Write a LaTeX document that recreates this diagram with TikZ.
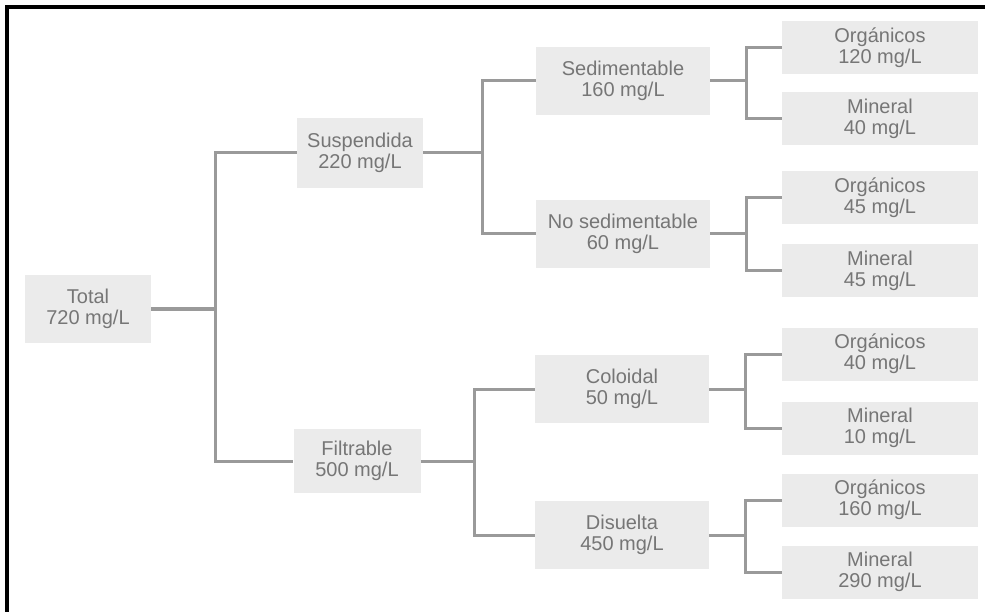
\documentclass[tikz,border=0pt]{standalone}
\usepackage{fontspec}
\setmainfont{Liberation Sans}
\usepackage{tikz}

\definecolor{boxgray}{HTML}{EBEBEB}
\definecolor{txtgray}{HTML}{767676}
\definecolor{linkgray}{HTML}{9A9A9A}

\tikzset{
	part/.style={fill=boxgray, text=txtgray, align=center, inner sep=0pt,
		font=\fontsize{20}{21}\selectfont},
	midpart/.style={part, minimum width=174pt, minimum height=68pt},
	leafpart/.style={part, minimum width=196pt, minimum height=53pt},
	link/.style={draw=linkgray, line width=3pt}
}

\begin{document}
\begin{tikzpicture}[x=1pt, y=-1pt]
		\useasboundingbox (0, 0) rectangle (985, 612);
		\draw[line width=4pt] (7, 612) -- (7, 7) -- (985, 7);
		\node[part, minimum width=126pt, minimum height=67pt] (total) at (88, 309) {Total\\720 mg/L};
		\node[part, minimum width=126pt, minimum height=70pt] (susp) at (360, 153) {Suspendida\\220 mg/L};
		\node[part, minimum width=127pt, minimum height=64pt] (filt) at (357, 461) {Filtrable\\500 mg/L};
		\node[midpart] (sed) at (623, 81) {Sedimentable\\160 mg/L};
		\node[midpart] (nosed) at (623, 234) {No sedimentable\\60 mg/L};
		\node[midpart] (col) at (622, 389) {Coloidal\\50 mg/L};
		\node[midpart] (dis) at (622, 535) {Disuelta\\450 mg/L};
		\foreach \n/\y/\t/\v in {
			sedo/48/Orgánicos/120, sedm/119/Mineral/40,
			nosedo/198/Orgánicos/45, nosedm/271/Mineral/45,
			colo/354/Orgánicos/40, colm/428/Mineral/10,
			diso/500/Orgánicos/160, dism/572/Mineral/290} {
			\node[leafpart] (\n) at (880, \y) {\t\\\v\ mg/L};
		}
		\draw[link]
			(total.east) -- ++(64, 0) coordinate (jt)
			(susp.west) -| (jt) |- (filt.west)
			(susp.east) -- ++(59, 0) coordinate (js)
			(sed.west) -| (js) |- (nosed.west)
			(filt.east) -- ++(54, 0) coordinate (jf)
			(col.west) -| (jf) |- (dis.west)
		;
		\foreach \p in {sed, nosed, col, dis} {
			\draw[link]
				(\p.east) -- ++(36, 0) coordinate (j\p)
				(\p o.west) -| (j\p) |- (\p m.west)
			;
		}
	\end{tikzpicture}
\end{document}
